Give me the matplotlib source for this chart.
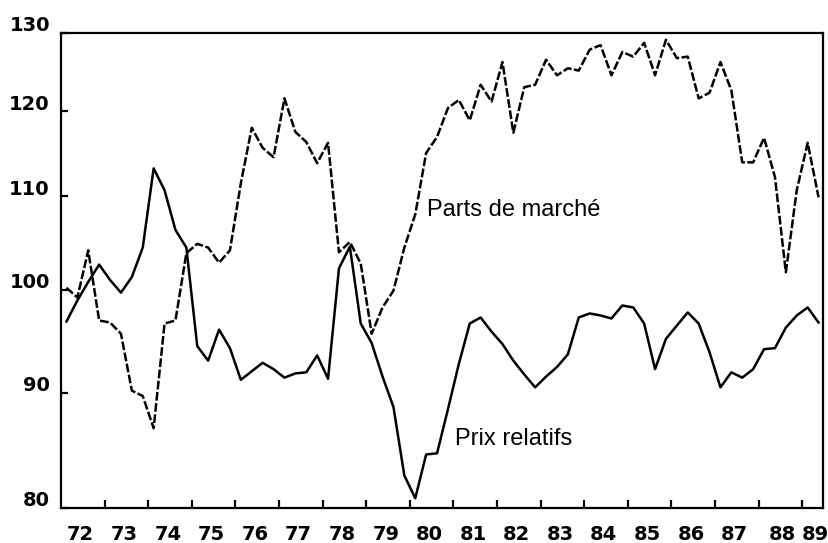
import matplotlib
matplotlib.use("Agg")
import matplotlib.pyplot as plt
import numpy as np
from matplotlib.ticker import NullLocator, FixedLocator, FixedFormatter
from matplotlib.transforms import ScaledTranslation

# ---------------- data ----------------
years = list(range(1972, 1990))
year_labels = [str(y)[2:] for y in years]
y_ticks = [80, 90, 100, 110, 120, 130]

# quarterly observations 1972Q1 .. 1989Q2 (mid-quarter dates)
quarters = 1972 + 0.125 + 0.25 * np.arange(70)

parts_de_marche = [
    100.2, 99.2, 104.1, 96.9, 96.7, 95.6, 90.2, 89.7, 86.8, 96.6,
    96.9, 103.8, 104.8, 104.4, 102.8, 104.1, 111.5, 118.0, 115.6, 114.5,
    121.6, 117.5, 116.3, 113.8, 116.2, 103.9, 105.0, 102.7, 95.6, 98.2,
    99.9, 104.4, 108.0, 115.0, 116.9, 120.4, 121.4, 118.9, 123.3, 121.2,
    126.2, 117.4, 123.0, 123.3, 126.5, 124.5, 125.4, 125.1, 127.8, 128.4,
    124.5, 127.5, 126.9, 128.7, 124.5, 129.1, 126.7, 126.9, 121.6, 122.3,
    126.2, 122.6, 113.9, 113.9, 116.8, 112.2, 101.8, 110.7, 116.2, 109.9,
]

prix_relatifs = [
    96.8, 98.9, 100.8, 102.6, 101.0, 99.7, 101.3, 104.4, 113.2, 110.7,
    106.3, 104.4, 94.4, 93.0, 96.0, 94.2, 91.2, 92.0, 92.8, 92.2,
    91.4, 91.8, 91.9, 93.5, 91.3, 102.2, 104.5, 96.6, 94.7, 91.5,
    88.7, 82.7, 80.8, 84.5, 84.6, 88.5, 92.7, 96.6, 97.2, 95.8,
    94.6, 93.0, 91.7, 90.5, 91.5, 92.4, 93.6, 97.2, 97.6, 97.4,
    97.1, 98.4, 98.2, 96.6, 92.2, 95.1, 96.4, 97.7, 96.6, 93.8,
    90.5, 91.9, 91.4, 92.2, 94.1, 94.2, 96.2, 97.4, 98.2, 96.7,
]

# ---------------- figure ----------------
W, H = 829, 543
fig = plt.figure(figsize=(W / 100, H / 100), dpi=100)
ax = fig.add_axes([61 / W, 1 - 508 / H, (823 - 61) / W, (508 - 33) / H])

ax.plot(quarters, prix_relatifs, color="black", lw=1.8)
ax.plot(quarters, parts_de_marche, color="black", lw=1.8, dashes=(3.5, 1.0))

ax.set_yscale("log")
ax.set_ylim(80, 130)
ax.set_xlim(1972, 1989.477)

ax.yaxis.set_major_locator(FixedLocator(y_ticks))
ax.yaxis.set_major_formatter(FixedFormatter([str(v) for v in y_ticks]))
ax.yaxis.set_minor_locator(NullLocator())

# year boundaries as ticks, labels centred within each year
ax.set_xticks(years[1:])
ax.set_xticklabels([])
label_pos = np.array(years, dtype=float) + 0.45
label_pos[-2] += 0.1
label_pos[-1] = 1989.3
ax.set_xticks(label_pos, minor=True)
ax.set_xticklabels(year_labels, minor=True)

tick_font = dict(family="DejaVu Sans", weight="bold", size=14)
ax.tick_params(axis="x", which="major", direction="in", length=6, width=1.6,
               top=False, bottom=True)
ax.tick_params(axis="x", which="minor", length=0, pad=12)
ax.tick_params(axis="y", which="major", direction="in", length=5, width=1.6,
               right=False, pad=8)
for lab in ax.get_xticklabels(minor=True):
    lab.set_fontproperties(matplotlib.font_manager.FontProperties(**tick_font))
offset = ScaledTranslation(0, 6.5 / 72, fig.dpi_scale_trans)
for lab in ax.get_yticklabels():
    lab.set_fontproperties(matplotlib.font_manager.FontProperties(**tick_font))
    lab.set_transform(lab.get_transform() + offset)

for sp in ax.spines.values():
    sp.set_linewidth(1.6)
    sp.set_color("black")

ax.text(1980.39, 107.8, "Parts de marché", family="Liberation Sans",
        fontsize=17, va="baseline", ha="left")
ax.text(1981.04, 85.3, "Prix relatifs", family="Liberation Sans",
        fontsize=17, va="baseline", ha="left")

fig.savefig("out.png", dpi=100)
